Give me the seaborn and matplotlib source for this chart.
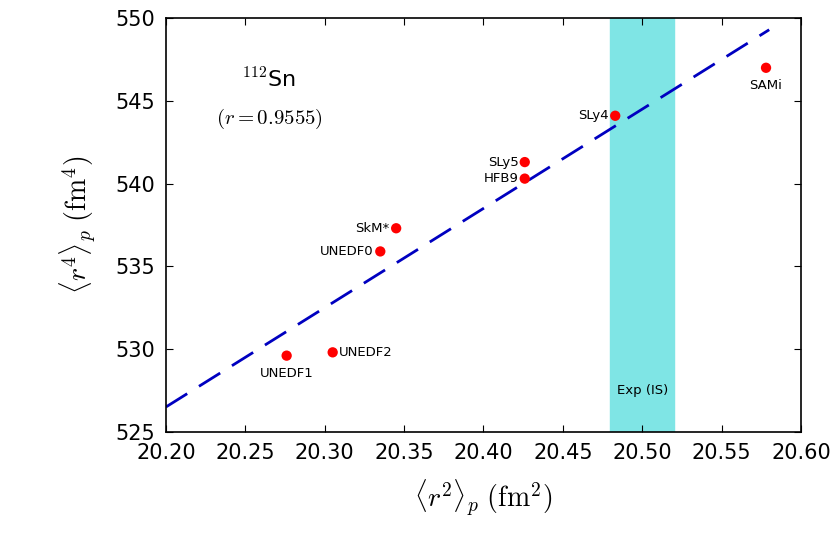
import matplotlib
matplotlib.use("Agg")
import matplotlib.pyplot as plt
import seaborn as sns
import pandas as pd

plt.rcParams["mathtext.fontset"] = "cm"

models = ["UNEDF1", "UNEDF2", "UNEDF0", "SkM*", "SLy5", "HFB9", "SLy4", "SAMi"]
r2 = [20.276, 20.305, 20.335, 20.345, 20.426, 20.426, 20.483, 20.578]
r4 = [529.6, 529.8, 535.9, 537.3, 541.3, 540.3, 544.1, 547.0]
fit_x = [20.20, 20.58]
fit_y = [526.5, 549.3]
exp_band = (20.48, 20.52)

df = pd.DataFrame({"model": models, "r2": r2, "r4": r4})

fig, ax = plt.subplots(figsize=(8.3, 5.5), dpi=100)
ax.axvspan(*exp_band, color="#7fe5e5", zorder=0)
ax.plot(fit_x, fit_y, color="#0000c0", lw=2, dashes=(9, 5), zorder=1)
sns.scatterplot(data=df, x="r2", y="r4", color="red", s=55, edgecolor="none", ax=ax, zorder=3)

offsets = {
    "UNEDF1": (0, -1.1, "center"),
    "UNEDF2": (0.004, 0, "left"),
    "UNEDF0": (-0.004, 0, "right"),
    "SkM*": (-0.004, 0, "right"),
    "SLy5": (-0.004, 0, "right"),
    "HFB9": (-0.004, 0, "right"),
    "SLy4": (-0.004, 0, "right"),
    "SAMi": (0, -1.1, "center"),
}
for m, x, y in zip(models, r2, r4):
    dx, dy, ha = offsets[m]
    ax.text(x + dx, y + dy, m, ha=ha, va="center", fontsize=9.5)
ax.text(sum(exp_band) / 2, 527.5, "Exp (IS)", ha="center", va="center", fontsize=9.5)

ax.text(20.265, 546.3, r"$^{112}$Sn", ha="center", va="center", fontsize=16)
ax.text(20.265, 543.9, r"$(r=0.9555)$", ha="center", va="center", fontsize=15)

ax.set_xlim(20.20, 20.60)
ax.set_ylim(525, 550)
ax.set_xticks([20.20 + 0.05 * i for i in range(9)])
ax.set_xticklabels([f"{20.20 + 0.05 * i:.2f}" for i in range(9)])
ax.set_yticks(range(525, 551, 5))
ax.tick_params(labelsize=15, direction="in", top=True, right=True, length=5, pad=8)
ax.set_xlabel(r"$\langle r^2\rangle_p\ (\mathrm{fm}^2)$", fontsize=20, labelpad=10)
ax.set_ylabel(r"$\langle r^4\rangle_p\ (\mathrm{fm}^4)$", fontsize=20, labelpad=12)
for s in ax.spines.values():
    s.set_linewidth(1.2)

fig.subplots_adjust(left=0.2, right=0.965, top=0.967, bottom=0.215)
fig.savefig("out.png", dpi=100)
